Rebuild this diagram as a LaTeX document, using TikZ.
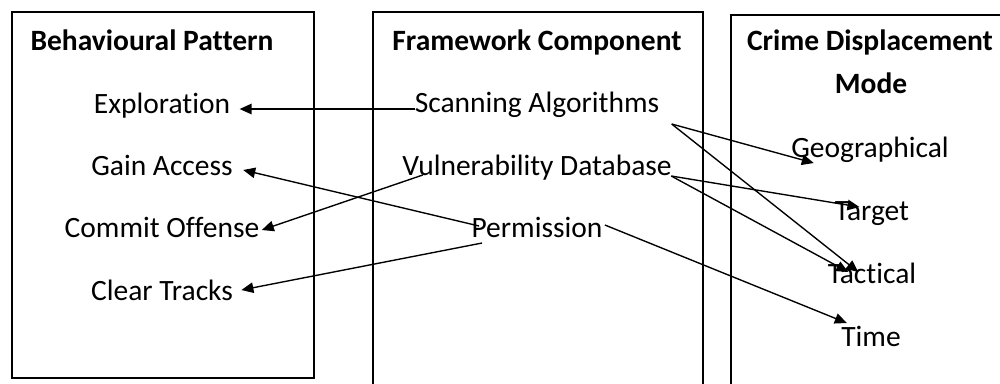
\documentclass[tikz,border=0pt]{standalone}
\usepackage{fontspec}
\setmainfont{Carlito}[Ligatures=NoCommon]
\usetikzlibrary{positioning, arrows.meta}

\begin{document}
\begin{tikzpicture}[x=0.4pt,y=-0.4pt,
    item/.style={inner sep=0pt,anchor=base,font=\fontsize{11.8}{14}\selectfont},
    head/.style={item,font=\fontsize{11.8}{14}\selectfont\bfseries},
    panel/.style={draw,line width=0.6pt},
    link/.style={-{Triangle[length=4.8pt,width=4.2pt]},line width=0.55pt}]
    %frame
    \useasboundingbox (0,0) rectangle (1000,383);
    % Columns
    \draw[panel] (12,12) rectangle (314,378);
    \draw[panel] (373,12) rectangle (703,395);
    \draw[panel] (731,15) rectangle (1010,395);
    % Headings
    \node[head] (bp) at (152,50) {Behavioural Pattern};
    \node[head] (fc) at (537,50) {Framework Component};
    \node[head] (cdm) at (870,50) {Crime Displacement};
    \node[head] (mode) at (871,93) {Mode};
    % Behavioural pattern
    \node[item] (expl) at (162,113) {Exploration};
    \node[item] (gain) at (162,175) {Gain Access};
    \node[item] (commit) at (162,237) {Commit Offense};
    \node[item] (clear) at (162,300) {Clear Tracks};
    % Framework component
    \node[item] (scan) at (537,112) {Scanning Algorithms};
    \node[item] (vuln) at (537,175) {Vulnerability Database};
    \node[item] (perm) at (537,237) {Permission};
    % Displacement mode
    \node[item] (geo) at (870,157) {Geographical};
    \node[item] (target) at (872,220) {Target};
    \node[item] (tact) at (872,283) {Tactical};
    \node[item] (time) at (871,346) {Time};
    % Links
    \coordinate (sa) at ([shift={(12,12)}]scan.base east);
    \coordinate (vd) at ([shift={(-1,1)}]vuln.base east);
    \draw[link] ([shift={(1,-3)}]scan.base west) -- ([shift={(9,-4)}]expl.base east);
    \draw[link] ([shift={(8,-11)}]perm.base west) -- ([shift={(10,-5)}]gain.base east);
    \draw[link] ([shift={(21,0)}]vuln.base west) -- ([shift={(2,-7)}]commit.base east);
    \draw[link] ([shift={(11,6)}]perm.base west) -- ([shift={(8,-10)}]clear.base east);
    \draw[link] (sa) -- ([shift={(23,6)}]geo.base west);
    \draw[link] (sa) -- ([shift={(31,-11)}]tact.base west);
    \draw[link] (vd) -- ([shift={(25,-13)}]target.base west);
    \draw[link] (vd) -- ([shift={(21,-11)}]tact.base west);
    \draw[link] ([shift={(2,-12)}]perm.base east) -- ([shift={(6,-23)}]time.base west);
\end{tikzpicture}
\end{document}
